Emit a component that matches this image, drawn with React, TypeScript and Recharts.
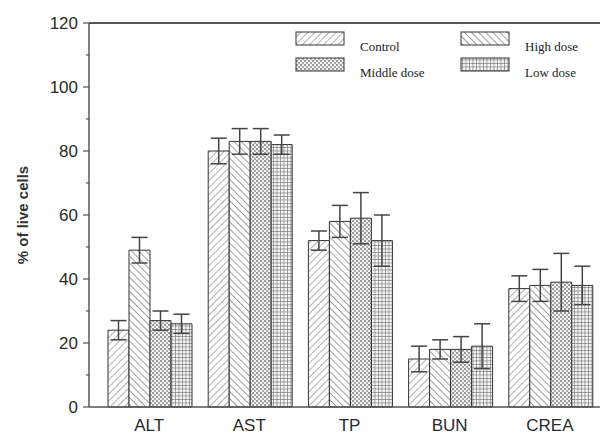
import { Bar, BarChart, ErrorBar, ReferenceLine, XAxis, YAxis } from 'recharts'

const categories = ['ALT', 'AST', 'TP', 'BUN', 'CREA']
const control = [24, 80, 52, 15, 37]
const controlErr = [3, 4, 3, 4, 4]
const highDose = [49, 83, 58, 18, 38]
const highDoseErr = [4, 4, 5, 3, 5]
const middleDose = [27, 83, 59, 18, 39]
const middleDoseErr = [3, 4, 8, 4, 9]
const lowDose = [26, 82, 52, 19, 38]
const lowDoseErr = [3, 3, 8, 7, 6]
const yTicks = [0, 10, 20, 30, 40, 50, 60, 70, 80, 90, 100, 110, 120]

const data = categories.map((name, i) => ({
  name,
  control: control[i],
  controlErr: controlErr[i],
  high: highDose[i],
  highErr: highDoseErr[i],
  middle: middleDose[i],
  middleErr: middleDoseErr[i],
  low: lowDose[i],
  lowErr: lowDoseErr[i],
}))

const series = [
  { key: 'control', err: 'controlErr', name: 'Control', fill: 'url(#pat-control)' },
  { key: 'high', err: 'highErr', name: 'High dose', fill: 'url(#pat-high)' },
  { key: 'middle', err: 'middleErr', name: 'Middle dose', fill: 'url(#pat-middle)' },
  { key: 'low', err: 'lowErr', name: 'Low dose', fill: 'url(#pat-low)' },
]

const sans = '"Liberation Sans", Arial, sans-serif'
const serif = '"Liberation Serif", "Times New Roman", serif'

function YTick(props: any) {
  const { x, y, payload } = props
  const axisX = x + 11
  const major = payload.value % 20 === 0
  return (
    <g>
      <line x1={axisX - (major ? 6 : 3)} x2={axisX} y1={y} y2={y} stroke="#555" strokeWidth={1.2} />
      {major && (
        <text x={x} y={y} dy={6} textAnchor="end" fontSize={17} fill="#2a2a2a" fontFamily={sans}>
          {payload.value}
        </text>
      )}
    </g>
  )
}

function Patterns() {
  return (
    <defs>
      <pattern id="pat-control" width="5" height="5" patternUnits="userSpaceOnUse" patternTransform="rotate(45)">
        <rect width="5" height="5" fill="#fff" />
        <line x1="0" y1="0" x2="0" y2="5" stroke="#888" strokeWidth="1.3" />
      </pattern>
      <pattern id="pat-high" width="5" height="5" patternUnits="userSpaceOnUse" patternTransform="rotate(-45)">
        <rect width="5" height="5" fill="#fff" />
        <line x1="0" y1="0" x2="0" y2="5" stroke="#777" strokeWidth="1.4" />
      </pattern>
      <pattern id="pat-middle" width="4" height="4" patternUnits="userSpaceOnUse">
        <rect width="4" height="4" fill="#f2f2f2" />
        <rect x="0" y="0" width="2" height="2" fill="#999" />
        <rect x="2" y="2" width="2" height="2" fill="#aaa" />
      </pattern>
      <pattern id="pat-low" width="3.5" height="3.5" patternUnits="userSpaceOnUse">
        <rect width="3.5" height="3.5" fill="#f4f4f4" />
        <line x1="0" y1="0" x2="3.5" y2="0" stroke="#666" strokeWidth="1.1" />
        <line x1="0" y1="0" x2="0" y2="3.5" stroke="#666" strokeWidth="1.1" />
      </pattern>
    </defs>
  )
}

function LegendOverlay() {
  const items = [
    { s: series[0], x: 296, y: 32 },
    { s: series[1], x: 461, y: 32 },
    { s: series[2], x: 296, y: 58 },
    { s: series[3], x: 461, y: 58 },
  ]
  return (
    <svg width={600} height={436} style={{ position: 'absolute', left: 0, top: 0, pointerEvents: 'none' }}>
      <Patterns />
      {items.map(({ s, x, y }) => (
        <g key={s.key}>
          <rect x={x} y={y} width={48} height={13} fill={s.fill} stroke="#333" strokeWidth={1} />
          <text x={x + 64} y={y + 19} fontSize={13} fill="#222" fontFamily={serif}>
            {s.name}
          </text>
        </g>
      ))}
    </svg>
  )
}

export default function App() {
  return (
    <div style={{ position: 'absolute', left: 0, top: 0, width: 600, height: 436, background: '#fff' }}>
      <BarChart
        width={600}
        height={436}
        data={data}
        margin={{ top: 23, right: 0, left: 0, bottom: 0 }}
        barCategoryGap={9}
        barGap={0}
      >
        <XAxis
          dataKey="name"
          height={29}
          padding={{ left: 10, right: 0 }}
          tickLine={false}
          axisLine={{ stroke: '#555', strokeWidth: 1.5 }}
          tick={{ fontSize: 17, fill: '#2a2a2a', fontFamily: sans }}
          tickMargin={6}
        />
        <YAxis
          width={89}
          domain={[0, 120]}
          ticks={yTicks}
          interval={0}
          tickLine={false}
          tickSize={6}
          tickMargin={5}
          axisLine={{ stroke: '#555', strokeWidth: 1.5 }}
          tick={<YTick />}
          label={{
            value: '% of live cells',
            angle: -90,
            position: 'insideLeft',
            offset: 23,
            style: { fontSize: 15, fontWeight: 'bold', fill: '#333', fontFamily: sans, textAnchor: 'middle' },
          }}
        />
        <ReferenceLine y={120} stroke="#555" strokeWidth={2} />
        {series.map((s) => (
          <Bar key={s.key} dataKey={s.key} fill={s.fill} stroke="#333" strokeWidth={1} isAnimationActive={false}>
            <ErrorBar dataKey={s.err} width={8} stroke="#444" strokeWidth={1.5} isAnimationActive={false} />
          </Bar>
        ))}
      </BarChart>
      <LegendOverlay />
    </div>
  )
}
